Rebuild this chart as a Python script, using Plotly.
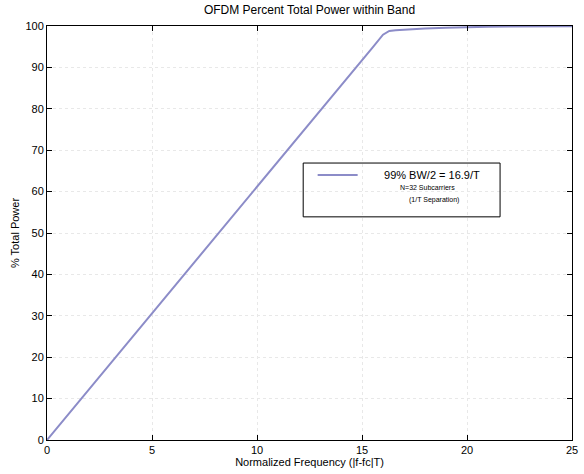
import plotly.graph_objects as go

# Normalized frequency |f-fc|T and % total power within band
freq = [0, 1, 2, 3, 4, 5, 6, 7, 8, 9, 10, 11, 12, 13, 14, 15, 15.5, 16, 16.3, 16.6,
        17, 18, 19, 20, 21, 22, 23, 24, 25]
power = [0, 6.1, 12.2, 18.3, 24.4, 30.5, 36.6, 42.7, 48.8, 54.9, 61.0, 67.1, 73.2,
         79.3, 85.4, 91.5, 94.8, 97.9, 98.8, 99.0, 99.15, 99.4, 99.6, 99.75, 99.82,
         99.87, 99.9, 99.93, 99.95]
series_name = "99% BW/2 = 16.9/T"
note_lines = ["N=32 Subcarriers", "(1/T Separation)"]
x_ticks = [0, 5, 10, 15, 20, 25]
y_ticks = [0, 10, 20, 30, 40, 50, 60, 70, 80, 90, 100]

FONT = "Liberation Sans, Arial, Helvetica, sans-serif"
LINE = "#8c8cc8"

fig = go.Figure()
fig.add_trace(go.Scatter(x=freq, y=power, mode="lines",
                         name="\u00a0" * 7 + series_name,
                         line=dict(color=LINE, width=2), showlegend=True))

axis_common = dict(
    showline=True, linecolor="black", linewidth=1, mirror="ticks",
    ticks="inside", ticklen=5, tickcolor="black",
    showgrid=True, gridcolor="#e8e8e8", griddash="dot", gridwidth=1,
    zeroline=False, automargin=False,
    tickfont=dict(family=FONT, size=11, color="black"),
)

fig.update_layout(
    width=584, height=474,
    margin=dict(l=47, r=12, t=26, b=34, autoexpand=False),
    paper_bgcolor="white", plot_bgcolor="white",
    font=dict(family=FONT, color="black"),
    title=dict(text="OFDM Percent Total Power within Band", x=0.5, xanchor="center",
               xref="paper", y=0.979, yanchor="middle",
               font=dict(family=FONT, size=12, color="black")),
    xaxis=dict(range=[0, 25], tickvals=x_ticks,
               title=dict(text="Normalized Frequency (|f-fc|T)", standoff=2,
                          font=dict(family=FONT, size=11)),
               **axis_common),
    yaxis=dict(range=[0, 100], tickvals=y_ticks,
               title=dict(text="% Total Power", standoff=3,
                          font=dict(family=FONT, size=11)),
               **axis_common),
    legend=dict(x=0.506, y=0.675, xanchor="left", yanchor="top",
                bgcolor="rgba(0,0,0,0)", borderwidth=0,
                font=dict(family=FONT, size=11, color="black"),
                itemwidth=40),
    showlegend=True,
)

# legend box border
fig.add_shape(type="rect", xref="paper", yref="paper",
              x0=0.488, x1=0.863, y0=0.539, y1=0.669,
              line=dict(color="black", width=1), fillcolor="rgba(0,0,0,0)")

note_x = [0.724, 0.737]
note_y = [0.611, 0.580]
for t, xx, yy in zip(note_lines, note_x, note_y):
    fig.add_annotation(text=t, xref="paper", yref="paper", x=xx, y=yy,
                       xanchor="center", yanchor="middle", showarrow=False,
                       font=dict(family=FONT, size=7, color="black"))

fig.write_html("out.html", config={"displayModeBar": False},
               post_script="document.body.style.margin='0';")
